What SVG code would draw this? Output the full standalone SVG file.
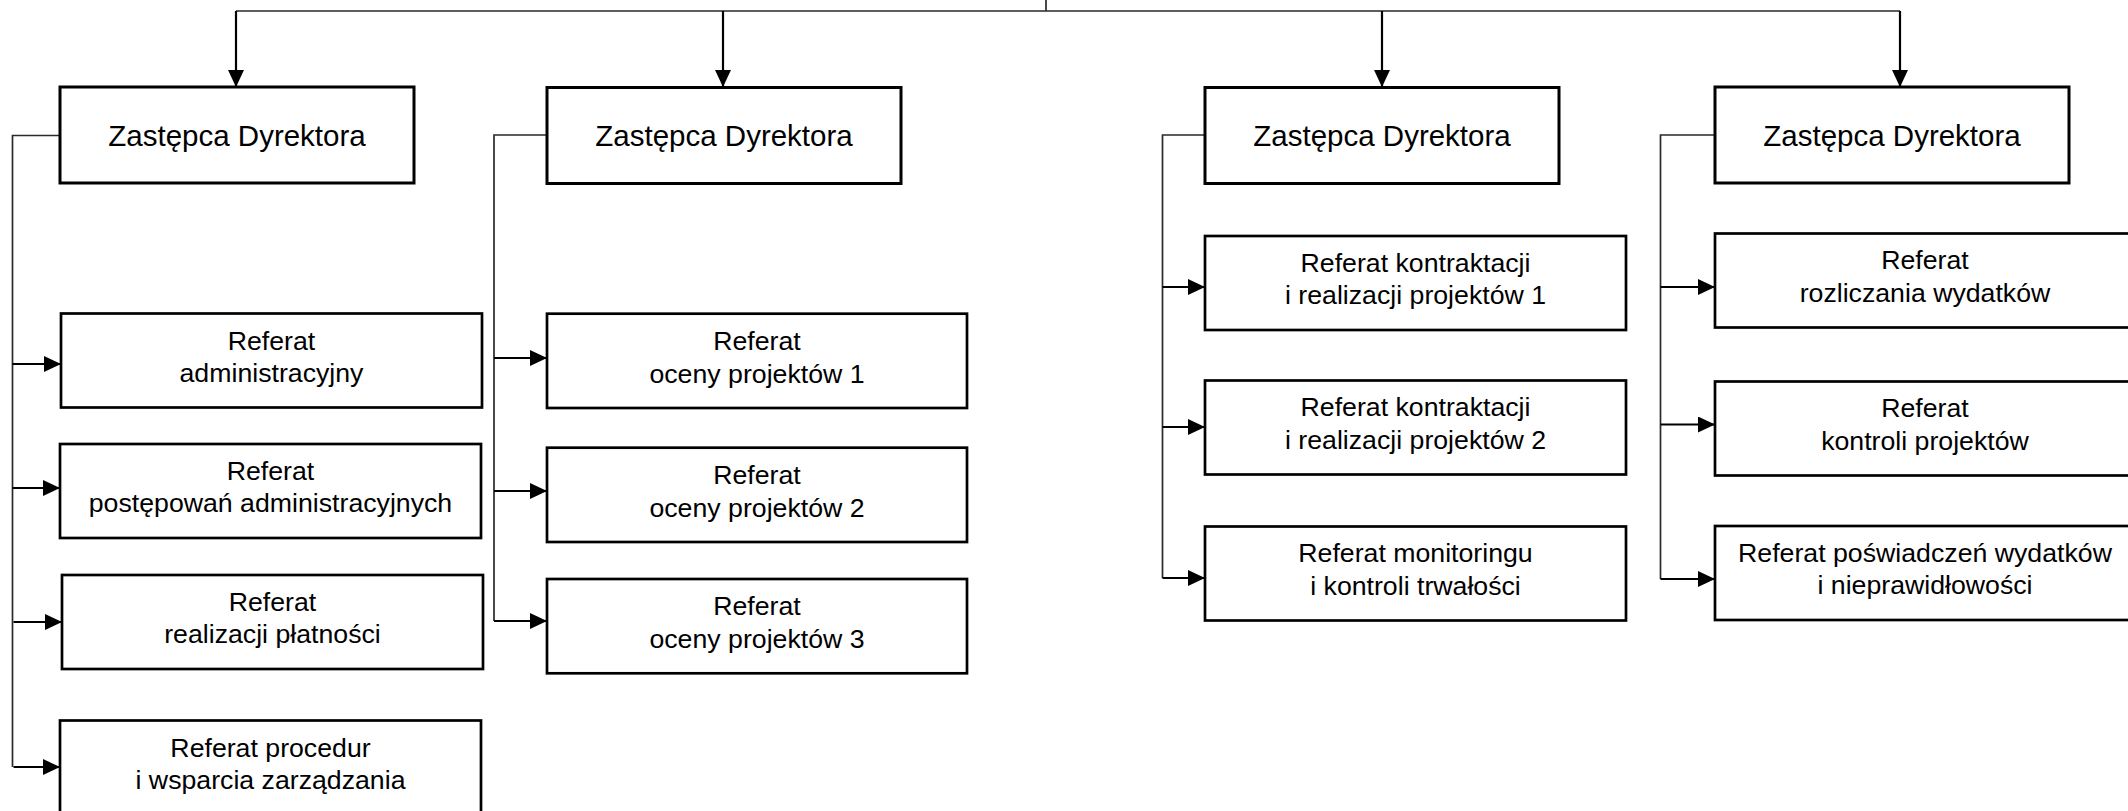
<svg xmlns="http://www.w3.org/2000/svg" width="2128" height="811" viewBox="0 0 2128 811">
<defs>
<marker id="ah" markerUnits="userSpaceOnUse" markerWidth="17" markerHeight="16" refX="17" refY="8" orient="auto">
<path d="M0,0 L17,8 L0,16 z" fill="#000"/>
</marker>
<style>
.top rect{fill:#fff;stroke:#000;stroke-width:3}
.sub rect{fill:#fff;stroke:#000;stroke-width:2.7}
text{font-family:"Liberation Sans",Arial,sans-serif;fill:#000;text-anchor:middle}
.top text{font-size:29.5px}
.sub text{font-size:26.7px}
.ln{fill:none;stroke:#2a2a2a;stroke-width:1.7}
.ar{fill:none;stroke:#000;stroke-width:2.2;marker-end:url(#ah)}
</style>
</defs>
<rect width="2128" height="811" fill="#fff"/>
<g id="connectors">
<path class="ln" d="M1046,0 V11 M236,11 H1900"/>
<path class="ar" d="M236,11 V87"/>
<path class="ar" d="M723,11 V87"/>
<path class="ar" d="M1382,11 V87"/>
<path class="ar" d="M1900,11 V87"/>
<path class="ln" d="M60,135.5 H12.5 V767"/>
<path class="ar" d="M12.5,364 H61"/>
<path class="ar" d="M12.5,488 H60"/>
<path class="ar" d="M13.5,622 H62"/>
<path class="ar" d="M13.5,767 H60"/>
<path class="ln" d="M547,135 H494 V621"/>
<path class="ar" d="M494,358 H547"/>
<path class="ar" d="M494,491 H547"/>
<path class="ar" d="M494,621 H547"/>
<path class="ln" d="M1205,135 H1162.5 V578"/>
<path class="ar" d="M1162.5,287 H1205"/>
<path class="ar" d="M1162.5,427 H1205"/>
<path class="ar" d="M1162.5,578 H1205"/>
<path class="ln" d="M1715,135 H1660.5 V579"/>
<path class="ar" d="M1660.5,287 H1715"/>
<path class="ar" d="M1660.5,424.5 H1715"/>
<path class="ar" d="M1660.5,579 H1715"/>
</g>
<g id="zd1" class="top"><rect x="60" y="87" width="354" height="96"/><text x="237" y="145.5">Zastępca Dyrektora</text></g>
<g id="zd2" class="top"><rect x="547" y="87.5" width="354" height="96"/><text x="724" y="146">Zastępca Dyrektora</text></g>
<g id="zd3" class="top"><rect x="1205" y="87.5" width="354" height="96"/><text x="1382" y="146">Zastępca Dyrektora</text></g>
<g id="zd4" class="top"><rect x="1715" y="87" width="354" height="96"/><text x="1892" y="145.5">Zastępca Dyrektora</text></g>
<g id="a1" class="sub"><rect x="61" y="313.5" width="421" height="94"/><text x="271.5" y="349.5">Referat</text><text x="271.5" y="381.7">administracyjny</text></g>
<g id="a2" class="sub"><rect x="60" y="444" width="421" height="94"/><text x="270.5" y="480">Referat</text><text x="270.5" y="512.2">postępowań administracyjnych</text></g>
<g id="a3" class="sub"><rect x="62" y="575" width="421" height="94"/><text x="272.5" y="611">Referat</text><text x="272.5" y="643.2">realizacji płatności</text></g>
<g id="a4" class="sub"><rect x="60" y="720.5" width="421" height="94"/><text x="270.5" y="756.5">Referat procedur</text><text x="270.5" y="788.7">i wsparcia zarządzania</text></g>
<g id="b1" class="sub"><rect x="547" y="313.7" width="420" height="94.3"/><text x="757" y="350">Referat</text><text x="757" y="382.5">oceny projektów 1</text></g>
<g id="b2" class="sub"><rect x="547" y="447.7" width="420" height="94.3"/><text x="757" y="484">Referat</text><text x="757" y="516.5">oceny projektów 2</text></g>
<g id="b3" class="sub"><rect x="547" y="579" width="420" height="94.3"/><text x="757" y="615.3">Referat</text><text x="757" y="647.8">oceny projektów 3</text></g>
<g id="c1" class="sub"><rect x="1205" y="236" width="421" height="94"/><text x="1415.5" y="271.7">Referat kontraktacji</text><text x="1415.5" y="304.3">i realizacji projektów 1</text></g>
<g id="c2" class="sub"><rect x="1205" y="380.5" width="421" height="94"/><text x="1415.5" y="416.2">Referat kontraktacji</text><text x="1415.5" y="448.8">i realizacji projektów 2</text></g>
<g id="c3" class="sub"><rect x="1205" y="526.5" width="421" height="94"/><text x="1415.5" y="562.2">Referat monitoringu</text><text x="1415.5" y="594.8">i kontroli trwałości</text></g>
<g id="d1" class="sub"><rect x="1715" y="233.5" width="420" height="94"/><text x="1925" y="269.2">Referat</text><text x="1925" y="301.8">rozliczania wydatków</text></g>
<g id="d2" class="sub"><rect x="1715" y="381.5" width="420" height="94"/><text x="1925" y="417.2">Referat</text><text x="1925" y="449.8">kontroli projektów</text></g>
<g id="d3" class="sub"><rect x="1715" y="526" width="420" height="94"/><text x="1925" y="561.7">Referat poświadczeń wydatków</text><text x="1925" y="594.3">i nieprawidłowości</text></g>
</svg>
